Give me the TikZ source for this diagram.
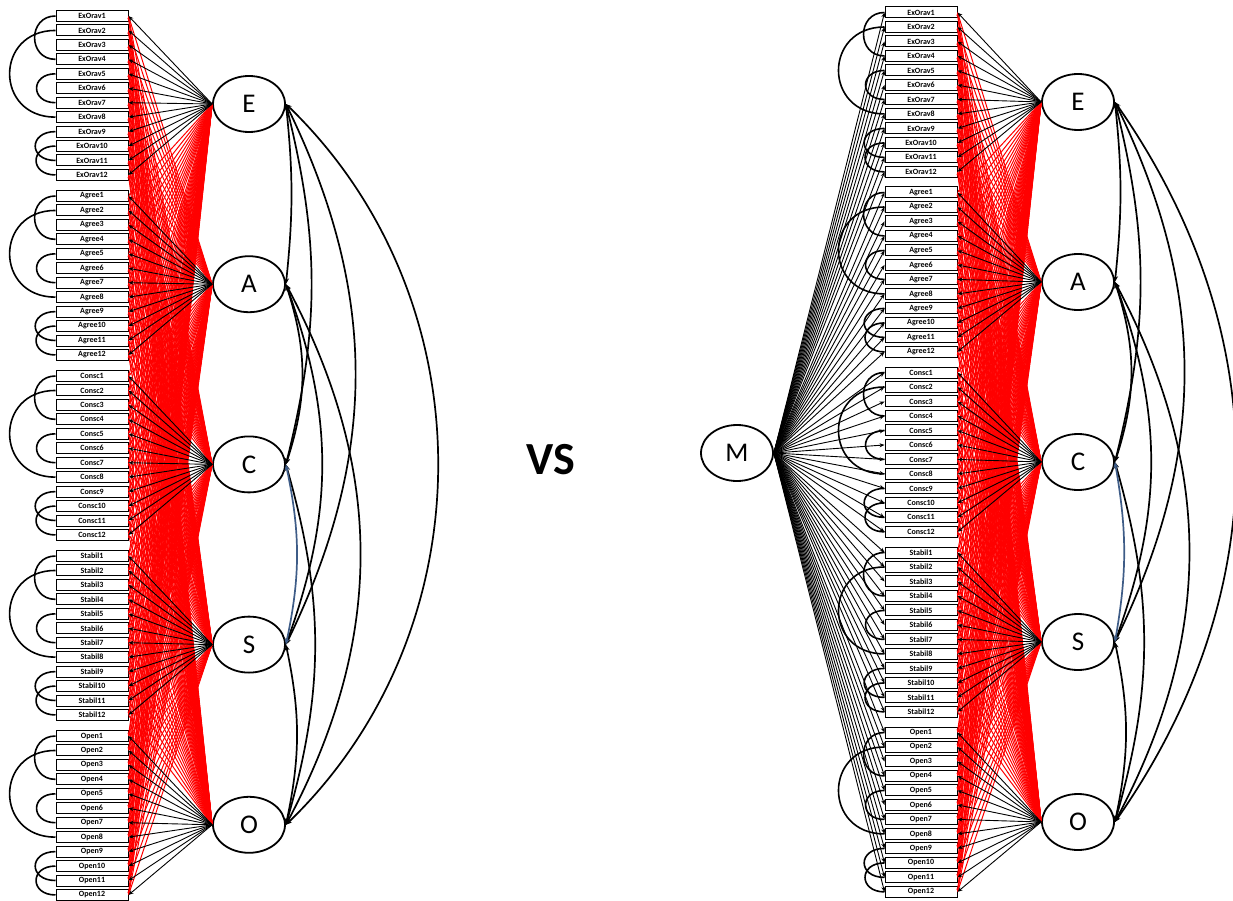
\documentclass[tikz,border=0pt]{standalone}
\usepackage{fontspec}
\setmainfont{Carlito}
\usetikzlibrary{shapes.geometric,arrows.meta}
\definecolor{covblue}{RGB}{62,92,135}

\begin{document}
\begin{tikzpicture}[x=1pt,y=-1pt,
	item/.style={ draw, line width=1pt, fill=white, minimum width=72pt, minimum height=11pt, inner sep=0pt, font=\fontsize{8}{8}\selectfont\bfseries },
	latent/.style={ ellipse, draw, line width=1.8pt, minimum width=72pt, minimum height=56pt, inner sep=0pt, font=\fontsize{27}{27}\selectfont },
	load/.style={ -{Stealth[length=5pt,width=4pt]}, line width=0.9pt },
	cross/.style={ red, -{Stealth[length=3pt,width=2.5pt]}, line width=1pt },
	errcov/.style={ line width=1.6pt },
	latcov/.style={ {Stealth[length=6pt,width=5pt]}-{Stealth[length=6pt,width=5pt]}, line width=1.7pt }
]
\useasboundingbox (0,0) rectangle (1233,901);

% indicators and factors, left and right
\foreach \f/\t [count=\g from 0] in {E/ExOrav,A/Agree,C/Consc,S/Stabil,O/Open} {
	\foreach \i in {1,...,12} {
		\node at (92,16+180*\g+14.45*\i-14.45) (l\f\i) [item] {\t\i};
		\node at (921,12.5+180*\g+14.49*\i-14.49) (r\f\i) [item] {\t\i};
	}
	\node at (249,104+180.2*\g) (l\f) [latent] {\f};
	\node at (1078,102+180*\g) (r\f) [latent] {\f};
}
\node at (737,453) (m) [latent] {M};
\node at (551,460) (vs) [font=\fontsize{46}{46}\selectfont\bfseries] {VS};

% cross loadings in red
\foreach \f in {E,A,C,S,O}
	\foreach \h in {E,A,C,S,O} {
		\ifx\f\h\else
			\foreach \i in {1,...,12} {
				\draw[cross] (l\f.west) -- (l\h\i.east);
				\draw[cross] (r\f.west) -- (r\h\i.east);
			}
		\fi
	}

% own loadings, error covariances
\foreach \f in {E,A,C,S,O} {
	\foreach \i in {1,...,12} {
		\draw[load] (l\f.west) -- (l\f\i.east);
		\draw[load] (r\f.west) -- (r\f\i.east);
		\draw[load] (m.east) -- (r\f\i.west);
	}
	\foreach \a/\b/\lo in {1/4/1.65,2/8/1.81,5/7/2.24,9/11/2.4,10/12/2.3} {
		\draw[errcov] (l\f\a.west) to[out=180,in=180,looseness=\lo] (l\f\b.west);
		\draw[errcov] (r\f\a.west) to[out=180,in=180,looseness=\lo] (r\f\b.west);
	}
}

% factor covariances
\foreach \a/\b/\ang in {E/A/6,E/C/14,E/S/26,A/C/18,A/S/20,A/O/28,C/O/16,S/O/12} {
	\draw[latcov] (l\a.east) to[bend left=\ang] (l\b.east);
	\draw[latcov] (r\a.east) to[bend left=\ang] (r\b.east);
}
\draw[latcov] (lE.east) to[bend left=46] (lO.east);
\draw[latcov] (rE.east) to[bend left=35] (rO.east);
\draw[latcov,covblue] (lC.east) to[bend left=12] (lS.east);
\draw[latcov,covblue] (rC.east) to[bend left=10] (rS.east);

\end{tikzpicture}
\end{document}
